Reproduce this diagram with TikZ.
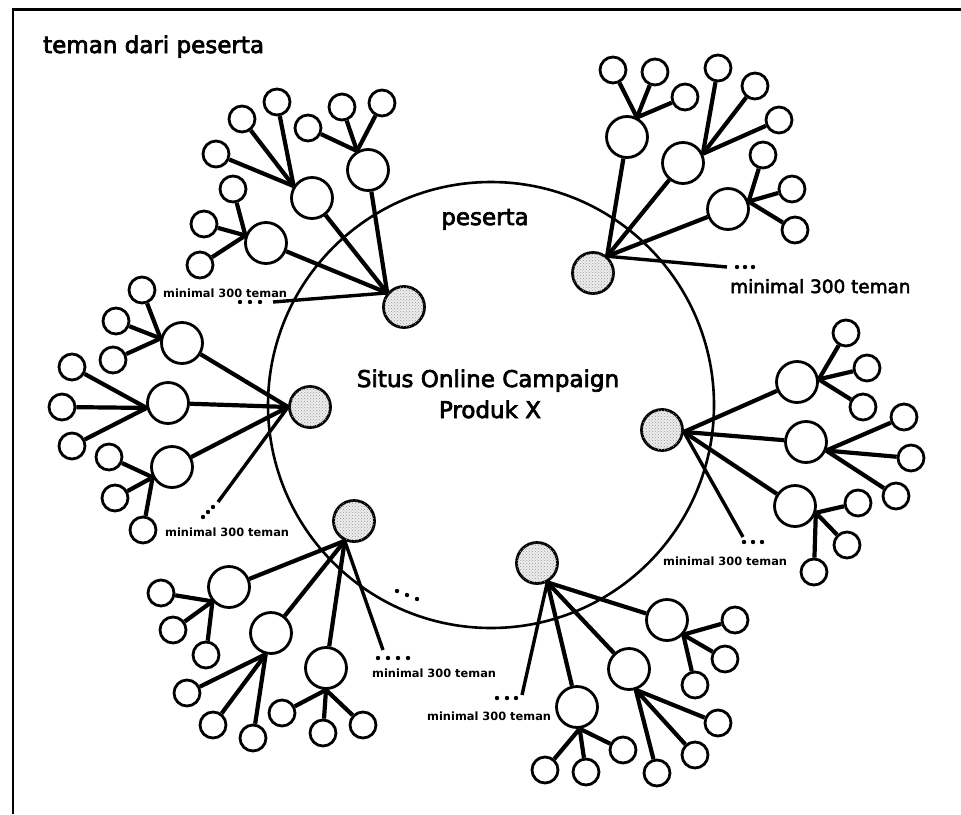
\documentclass[tikz,border=0pt]{standalone}
\usepackage{fontspec}
\setmainfont{DejaVu Sans}
\newfontfamily\heavyfont{DejaVu Sans}[FakeBold=3]
\newfontfamily\smallfont{DejaVu Sans Bold}
\usetikzlibrary{patterns}
\newcommand{\leafset}[5]{%
  \node[leaf] (#1-1) at (#3) {};
  \node[leaf] (#1-2) at (#4) {};
  \node[leaf] (#1-3) at (#5) {};
  \draw[conn] (#1.#2) -- (#1-1);
  \draw[conn] (#1.#2) -- (#1-2);
  \draw[conn] (#1.#2) -- (#1-3);
}
\begin{document}
\begin{tikzpicture}[x=1pt,y=-1pt,
  conn/.style={line width=4.2pt},
  kid/.style={circle,draw,line width=2.8pt,minimum size=41pt,inner sep=0pt},
  leaf/.style={circle,draw,line width=2.8pt,minimum size=26pt,inner sep=0pt},
  part/.style={circle,draw,line width=2.8pt,minimum size=41pt,inner sep=0pt,fill=gray!14,
               postaction={pattern=crosshatch dots,pattern color=gray!80}},
  small/.style={font=\smallfont\fontsize{11.4}{13}\selectfont,inner sep=0pt,anchor=base west},
  big/.style={font=\heavyfont\fontsize{23}{26}\selectfont,inner sep=0pt},
  dotmark/.style={fill=black},
  moreline/.style={line width=3.4pt}
]
\useasboundingbox (0,0) rectangle (961,814);
\fill[white] (0,0) rectangle (961,814);
% frame
\draw[line width=2.2pt] (13,814) -- (13,9.5) -- (961,9.5);

% main circle
\node[circle,draw,line width=2.6pt,minimum size=446pt,inner sep=0pt] (main) at (491,405) {};

% texts
\node[big,anchor=base west] (title) at (43,53) {teman dari peserta};
\node[big,anchor=base] (pes) at (485,225) {peserta};
\node[big,anchor=base] (situs1) at (488,387) {Situs Online Campaign};
\node[big,anchor=base] (situs2) at (490,418) {Produk X};

% participants
\node[part] (P1) at (404,307) {};
\node[part] (P2) at (593,273) {};
\node[part] (P3) at (310,407) {};
\node[part] (P4) at (662,430) {};
\node[part] (P5) at (354,521) {};
\node[part] (P6) at (537,563) {};

% children
\node[kid] (A) at (312,198) {};
\node[kid] (B) at (368,170) {};
\node[kid] (C) at (266,243) {};
\node[kid] (D) at (627,137) {};
\node[kid] (E) at (683,163) {};
\node[kid] (F) at (728,209) {};
\node[kid] (G) at (182,343) {};
\node[kid] (H) at (168,403) {};
\node[kid] (I) at (172,467) {};
\node[kid] (J) at (797,382) {};
\node[kid] (K) at (806,442) {};
\node[kid] (L) at (795,506) {};
\node[kid] (M) at (229,587) {};
\node[kid] (N) at (271,633) {};
\node[kid] (O) at (326,668) {};
\node[kid] (Q) at (667,620) {};
\node[kid] (R) at (629,669) {};
\node[kid] (S) at (577,707) {};

% participant -> child connectors
\foreach \c in {A,B,C} \draw[conn] (P1.140) -- (\c);
\foreach \c in {D,E,F} \draw[conn] (P2.50) -- (\c);
\foreach \c in {G,H,I} \draw[conn] (P3.180) -- (\c);
\foreach \c in {J,K,L} \draw[conn] (P4.355) -- (\c);
\foreach \c in {M,N,O} \draw[conn] (P5.245) -- (\c);
\foreach \c in {Q,R,S} \draw[conn] (P6.298) -- (\c);

% leaves
\leafset{A}{147}{216,154}{242,119}{277,102}
\leafset{B}{120}{308,128}{342,107}{382,103}
\leafset{C}{160}{233,189}{204,224}{200,265}
\leafset{D}{63}{613,70}{655,72}{685,97}
\leafset{E}{25}{718,68}{755,86}{779,120}
\leafset{F}{20}{763,155}{792,189}{795,230}
\leafset{G}{168}{142,290}{116,321}{113,360}
\leafset{H}{193}{72,367}{62,407}{72,446}
\leafset{I}{208}{109,457}{115,498}{143,530}
\leafset{J}{7}{846,333}{867,368}{863,407}
\leafset{K}{337}{904,417}{911,458}{896,496}
\leafset{L}{342}{858,503}{847,545}{814,572}
\leafset{M}{221}{161,593}{173,630}{206,655}
\leafset{N}{256}{187,693}{213,725}{253,738}
\leafset{O}{270}{282,713}{323,733}{363,725}
\leafset{Q}{318}{735,620}{725,659}{695,685}
\leafset{R}{288}{718,723}{695,755}{657,773}
\leafset{S}{277}{623,750}{586,772}{545,770}

% "minimal 300 teman" open connectors
\coordinate (e1) at (273,302);
\coordinate (e2) at (727,267);
\coordinate (e3) at (218,502);
\coordinate (e4) at (743,537);
\coordinate (e5) at (383,650);
\coordinate (e6) at (522,695);
\draw[moreline] (P1.140) -- (e1);
\draw[moreline] (P2.50) -- (e2);
\draw[moreline] (P3.180) -- (e3);
\draw[moreline] (P4.355) -- (e4);
\draw[moreline] (P5.245) -- (e5);
\draw[moreline] (P6.298) -- (e6);

% dots
\foreach \p in {(240,302),(250,302),(260,302),
                (737,267),(745,267),(753,267),
                (203,517),(208,512),(213,507),
                (744,542),(753,542),(762,542),
                (378,658),(388,658),(398,658),(408,658),
                (497,698),(507,698),(516,698),
                (397,591),(407,595),(417,599)}
  \fill[dotmark] \p circle[radius=2.2pt];

% labels
\node[small] (l1) at (163,297) {minimal 300 teman};
\node[font=\heavyfont\fontsize{18.4}{20}\selectfont,inner sep=0pt,anchor=base west] (l2) at (730,293) {minimal 300 teman};
\node[small] (l3) at (165,536) {minimal 300 teman};
\node[small] (l4) at (663,565) {minimal 300 teman};
\node[small] (l5) at (372,677) {minimal 300 teman};
\node[small] (l6) at (427,720) {minimal 300 teman};
\end{tikzpicture}
\end{document}
